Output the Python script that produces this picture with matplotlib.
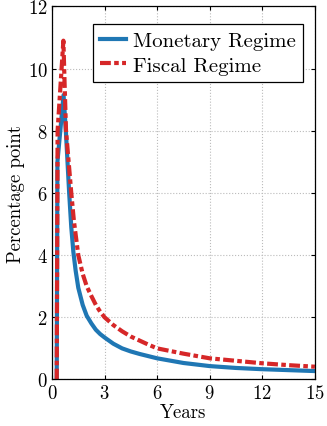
import numpy as np
import matplotlib
matplotlib.use("Agg")
import matplotlib.pyplot as plt

plt.rcParams['font.family'] = ['cmr10', 'DejaVu Serif']
plt.rcParams['mathtext.fontset'] = 'cm'
plt.rcParams['axes.formatter.use_mathtext'] = True

# responses (years, percentage points)
t_mon = [0.27, 0.31, 0.66, 0.8, 0.98, 1.1, 1.22, 1.35, 1.5, 1.75, 1.98, 2.25, 2.5, 2.75, 3.0, 3.5, 4.0,
         4.5, 5.0, 6.0, 7.5, 9.0, 10.5, 12.0, 13.5, 15.0]
y_mon = [0.0, 7.0, 9.15, 7.9, 6.0, 4.9, 4.1, 3.5, 2.95, 2.4, 2.05, 1.8, 1.6, 1.46, 1.35, 1.15, 1.0,
         0.9, 0.82, 0.68, 0.53, 0.43, 0.37, 0.33, 0.3, 0.27]

t_fis = [0.27, 0.32, 0.65, 0.72, 0.8, 0.95, 1.1, 1.25, 1.5, 1.75, 1.98, 2.25, 2.5, 2.75, 3.0, 3.5, 4.0,
         4.5, 5.0, 5.5, 6.0, 7.5, 9.0, 10.5, 12.0, 13.5, 15.0]
y_fis = [0.0, 8.0, 10.9, 9.5, 8.0, 7.0, 6.0, 5.1, 4.0, 3.4, 3.0, 2.68, 2.4, 2.18, 2.0, 1.75, 1.55,
         1.38, 1.25, 1.12, 1.0, 0.83, 0.68, 0.6, 0.52, 0.46, 0.41]

xticks = [0, 3, 6, 9, 12, 15]
yticks = [0, 2, 4, 6, 8, 10, 12]

fig = plt.figure(figsize=(3.27, 4.27), dpi=100)
ax = fig.add_axes([0.159, 0.109, 0.804, 0.8735])

ax.plot(t_mon, y_mon, color='#1f77b4', lw=3, label='Monetary Regime')
ax.plot(t_fis, y_fis, color='#d62728', lw=3, dashes=(2.6, 0.8, 1.1, 0.8), label='Fiscal Regime')

ax.set_xlim(0, 15)
ax.set_ylim(0, 12)
ax.set_xticks(xticks)
ax.set_yticks(yticks)
ax.tick_params(direction='in', top=True, right=True, labelsize=13.5, length=3, pad=3)
ax.grid(True, linestyle=':', color='#bbbbbb', lw=0.8)
for s in ax.spines.values():
    s.set_linewidth(0.9)

ax.set_xlabel('Years', fontsize=13.5, labelpad=1)
ax.set_ylabel('Percentage point', fontsize=13.5, labelpad=2)

leg = ax.legend(loc='upper right', bbox_to_anchor=(0.954, 0.953), borderaxespad=0,
                fontsize=15, frameon=True, fancybox=False,
                edgecolor='black', framealpha=1, handlelength=1.25, handletextpad=0.3,
                borderpad=0.35, labelspacing=0.3)
leg.get_frame().set_linewidth(0.9)

fig.savefig('out.png', dpi=100)
